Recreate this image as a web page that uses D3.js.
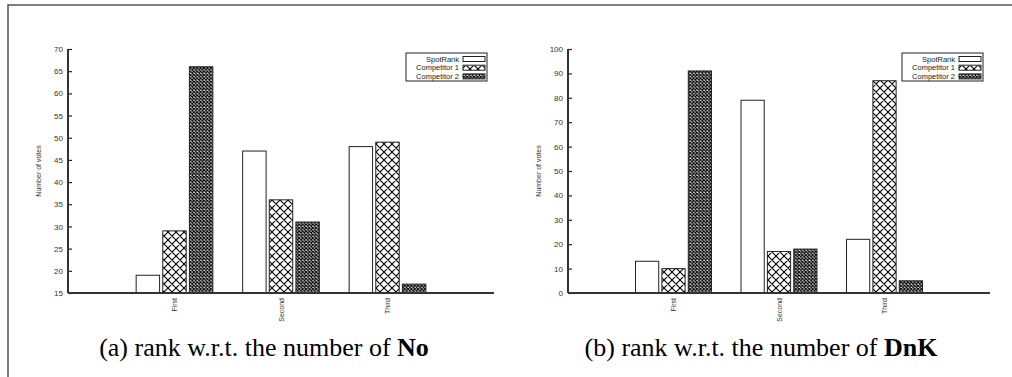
<!DOCTYPE html>
<html>
<head>
<meta charset="utf-8">
<script src="https://cdn.jsdelivr.net/npm/d3@7"></script>
<style>
  body { margin: 0; background: #fff; }
  svg { display: block; }
</style>
</head>
<body>
<div id="chart"></div>
<script>
// Data
const categories = ["First", "Second", "Third"];
const seriesNames = ["SpotRank", "Competitor 1", "Competitor 2"];

// (a) rank w.r.t. the number of No
const noSpotRank = [19, 47, 48];
const noComp1 = [29, 36, 49];
const noComp2 = [66, 31, 17];
const noTicks = [15, 20, 25, 30, 35, 40, 45, 50, 55, 60, 65, 70];

// (b) rank w.r.t. the number of DnK
const dnkSpotRank = [13, 79, 22];
const dnkComp1 = [10, 17, 87];
const dnkComp2 = [91, 18, 5];
const dnkTicks = [0, 10, 20, 30, 40, 50, 60, 70, 80, 90, 100];

const width = 1012;
const height = 377;

const svg = d3.select("#chart")
    .append("svg")
    .attr("width", width)
    .attr("height", height);

// Hatch patterns
const defs = svg.append("defs");
const coarse = defs.append("pattern")
    .attr("id", "coarse")
    .attr("patternUnits", "userSpaceOnUse")
    .attr("width", 8)
    .attr("height", 8);
coarse.append("rect").attr("width", 8).attr("height", 8).attr("fill", "#fff");
coarse.append("path")
    .attr("d", "M0,0 L8,8 M8,0 L0,8 M-1,7 L1,9 M7,-1 L9,1 M-1,1 L1,-1 M7,9 L9,7")
    .attr("stroke", "#000")
    .attr("stroke-width", 1.1);

const fine = defs.append("pattern")
    .attr("id", "fine")
    .attr("patternUnits", "userSpaceOnUse")
    .attr("width", 3.4)
    .attr("height", 3.4);
fine.append("rect").attr("width", 3.4).attr("height", 3.4).attr("fill", "#fff");
fine.append("path")
    .attr("d", "M0,0 L3.4,3.4 M3.4,0 L0,3.4")
    .attr("stroke", "#000")
    .attr("stroke-width", 1.2);

const fills = ["#fff", "url(#coarse)", "url(#fine)"];

// Outer frame
svg.append("path")
    .attr("d", "M8,377 L8,5 L1012,5")
    .attr("fill", "none")
    .attr("stroke", "#555")
    .attr("stroke-width", 1.5);

function drawPanel(opts) {
    const g = svg.append("g");
    const series = opts.series;

    const x = d3.scaleLinear().domain([0, 4]).range([opts.left, opts.right]);
    const y = d3.scaleLinear().domain(opts.domain).range([opts.bottom, opts.top]);

    // Bars
    series.forEach((values, j) => {
        g.selectAll(null)
            .data(values)
            .enter()
            .append("rect")
            .attr("x", (d, i) => x(i + 1 + (j - 1) * 0.25 - 0.11))
            .attr("width", x(0.22) - x(0))
            .attr("y", d => y(d))
            .attr("height", d => y(opts.domain[0]) - y(d))
            .attr("fill", fills[j])
            .attr("stroke", "#222")
            .attr("stroke-width", 1);
    });

    // Y axis
    const yAxis = d3.axisRight(y)
        .tickValues(opts.ticks)
        .tickSize(4)
        .tickFormat(d3.format("d"));
    const ya = g.append("g")
        .attr("transform", `translate(${opts.left},0)`)
        .call(yAxis);
    ya.select(".domain").remove();
    ya.selectAll(".tick line").attr("stroke", "#222").attr("stroke-width", 1.2);
    ya.selectAll(".tick text")
        .attr("x", -5)
        .attr("text-anchor", "end")
        .attr("font-family", "Liberation Sans, Arial, sans-serif")
        .attr("font-size", 8)
        .attr("fill", "#333");
    g.append("line")
        .attr("x1", opts.left).attr("x2", opts.left)
        .attr("y1", opts.top).attr("y2", opts.bottom)
        .attr("stroke", "#333")
        .attr("stroke-width", 2);

    // X axis
    const xAxis = d3.axisBottom(x)
        .tickValues([1, 2, 3])
        .tickSize(0)
        .tickFormat((d, i) => categories[i]);
    const xa = g.append("g")
        .attr("transform", `translate(0,${opts.bottom})`)
        .call(xAxis);
    xa.select(".domain").remove();
    xa.selectAll(".tick text")
        .attr("transform", "rotate(-90)")
        .attr("x", -5)
        .attr("y", 0)
        .attr("dy", "0.32em")
        .attr("text-anchor", "end")
        .attr("font-family", "Liberation Sans, Arial, sans-serif")
        .attr("font-size", 7)
        .attr("fill", "#333");
    g.append("line")
        .attr("x1", opts.left).attr("x2", opts.right)
        .attr("y1", opts.bottom).attr("y2", opts.bottom)
        .attr("stroke", "#333")
        .attr("stroke-width", 2);

    // Y axis title
    g.append("text")
        .attr("transform", `translate(${opts.left - 27},${(opts.top + opts.bottom) / 2}) rotate(-90)`)
        .attr("text-anchor", "middle")
        .attr("font-family", "Liberation Sans, Arial, sans-serif")
        .attr("font-size", 7)
        .attr("fill", "#333")
        .text("Number of votes");

    // Legend
    const lg = g.append("g").attr("transform", `translate(${opts.legendX},53)`);
    lg.append("rect")
        .attr("width", 81).attr("height", 28)
        .attr("fill", "#fff")
        .attr("stroke", "#222")
        .attr("stroke-width", 1);
    seriesNames.forEach((name, j) => {
        const ry = 6 + j * 8.7;
        lg.append("text")
            .attr("x", 53)
            .attr("y", ry)
            .attr("dy", "0.35em")
            .attr("text-anchor", "end")
            .attr("font-family", "Liberation Sans, Arial, sans-serif")
            .attr("font-size", 7.5)
            .attr("fill", "#222")
            .text(name);
        lg.append("rect")
            .attr("x", 57).attr("y", ry - 2.5)
            .attr("width", 22).attr("height", 5)
            .attr("fill", fills[j])
            .attr("stroke", "#222")
            .attr("stroke-width", 1);
    });

    // Caption
    const cap = svg.append("text")
        .attr("x", opts.captionX)
        .attr("y", 356)
        .attr("text-anchor", "middle")
        .attr("font-family", "Liberation Serif, Times New Roman, serif")
        .attr("font-size", 26)
        .attr("fill", "#000");
    cap.append("tspan").text(opts.caption);
    cap.append("tspan").attr("font-weight", "bold").text(opts.captionBold);
}

drawPanel({
    left: 68, right: 494, top: 49, bottom: 293,
    domain: [15, 70], ticks: noTicks,
    series: [noSpotRank, noComp1, noComp2],
    legendX: 406,
    captionX: 264,
    caption: "(a) rank w.r.t. the number of ",
    captionBold: "No"
});

drawPanel({
    left: 568, right: 990, top: 49, bottom: 293,
    domain: [0, 100], ticks: dnkTicks,
    series: [dnkSpotRank, dnkComp1, dnkComp2],
    legendX: 902,
    captionX: 761,
    caption: "(b) rank w.r.t. the number of ",
    captionBold: "DnK"
});
</script>
</body>
</html>
